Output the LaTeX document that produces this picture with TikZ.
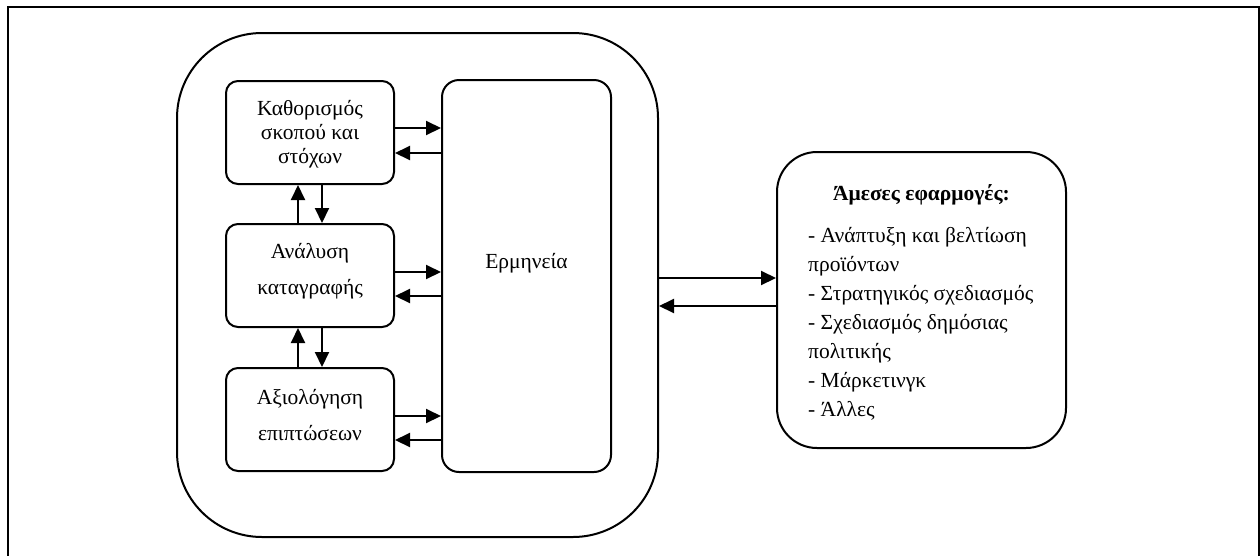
\documentclass[tikz,border=0pt]{standalone}
\usepackage{fontspec}
\setmainfont{Liberation Serif}
\usetikzlibrary{arrows.meta}
\begin{document}
\begin{tikzpicture}[x=1pt,y=-1pt,
  box/.style={draw,line width=2pt,rounded corners=#1,inner sep=0pt},
  box/.default=12pt,
  txt/.style={font=\fontsize{21.5}{24}\selectfont,align=center,inner sep=0pt},
  arr/.style={line width=2pt,-{Triangle[length=15pt,width=14pt]}}]
\useasboundingbox (0,0) rectangle (1260,555);
\draw[line width=2.4pt] (8,570) -- (8,7) -- (1259,7) -- (1259,570);
% big rounded box
\node[box=85pt,minimum width=481pt,minimum height=504pt] (big) at (417.5,285) {};
% left boxes
\node[box,minimum width=168pt,minimum height=103pt] (b1) at (310,132.5) {};
\node[box,minimum width=168pt,minimum height=103pt] (b2) at (310,275.5) {};
\node[box,minimum width=168pt,minimum height=103pt] (b3) at (310,419.5) {};
\node[box=17pt,minimum width=169pt,minimum height=392pt] (erm) at (526.5,276) {};
\node[box=40pt,minimum width=289pt,minimum height=296pt] (app) at (921.5,300) {};
% texts
\node[txt] (t1) at (310,134) {Καθορισμός\\σκοπού και\\στόχων};
\node[txt,font=\fontsize{21.5}{36}\selectfont] (t2) at (310,271) {Ανάλυση\\καταγραφής};
\node[txt,font=\fontsize{21.5}{36}\selectfont] (t3) at (310,415) {Αξιολόγηση\\επιπτώσεων};
\node[txt] (te) at (526.5,263) {Ερμηνεία};
\node[txt,font=\fontsize{21.5}{24}\selectfont\bfseries] (th) at (921.5,195) {Άμεσες εφαρμογές:};
\node[txt,font=\fontsize{21.5}{29}\selectfont,align=left,anchor=north west] (tl) at (808,227) {- Ανάπτυξη και βελτίωση\\προϊόντων\\- Στρατηγικός σχεδιασμός\\- Σχεδιασμός δημόσιας\\πολιτικής\\- Μάρκετινγκ\\- Άλλες};
% arrows
\draw[arr] (b1.east |- 0,128) -- (erm.west |- 0,128);
\draw[arr] (erm.west |- 0,153) -- (b1.east |- 0,153);
\draw[arr] (b2.east |- 0,272) -- (erm.west |- 0,272);
\draw[arr] (erm.west |- 0,296) -- (b2.east |- 0,296);
\draw[arr] (b3.east |- 0,416) -- (erm.west |- 0,416);
\draw[arr] (erm.west |- 0,440) -- (b3.east |- 0,440);
\draw[arr] (b2.north -| 298,0) -- (b1.south -| 298,0);
\draw[arr] (b1.south -| 322,0) -- (b2.north -| 322,0);
\draw[arr] (b3.north -| 298,0) -- (b2.south -| 298,0);
\draw[arr] (b2.south -| 322,0) -- (b3.north -| 322,0);
\draw[arr] (big.east |- 0,278) -- (app.west |- 0,278);
\draw[arr] (app.west |- 0,306) -- (big.east |- 0,306);
\end{tikzpicture}
\end{document}
